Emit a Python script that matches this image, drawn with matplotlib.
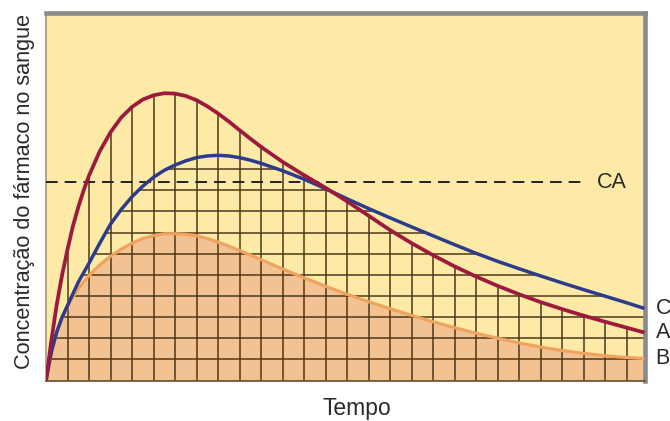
import matplotlib
matplotlib.use("Agg")
import matplotlib.pyplot as plt
from matplotlib.patches import Polygon
import numpy as np

plt.rcParams['font.family'] = ['Liberation Sans', 'DejaVu Sans']

# ---- data (grid units) ----
tempo = [0, 0.25, 0.5, 0.75, 1, 1.25, 1.5, 1.75, 2,
         2.5, 3, 3.5, 4, 4.5, 5, 5.5, 6, 6.5, 7, 7.5, 8, 8.5, 9, 9.5, 10,
         11, 12, 13, 14, 15, 16, 17, 18, 19, 20, 21, 22, 23, 24, 25, 26, 27, 27.83]
curva_A = [0, 1.9, 3.6, 5.0, 6.2, 7.3, 8.2, 9.0, 9.7,
           10.85, 11.75, 12.45, 12.95, 13.3, 13.5, 13.6, 13.58, 13.47, 13.27, 12.98, 12.64,
           12.26, 11.85, 11.45, 11.06,
           10.35, 9.72, 9.12, 8.48, 7.8, 7.12, 6.5, 5.93, 5.4, 4.92, 4.48, 4.08, 3.71, 3.38,
           3.07, 2.78, 2.5, 2.27]
curva_C = [0, 1.35, 2.3, 3.0, 3.55, 4.1, 4.65, 5.1, 5.55,
           6.5, 7.4, 8.1, 8.7, 9.2, 9.62, 9.95, 10.2, 10.4, 10.55, 10.63, 10.66,
           10.63, 10.55, 10.43, 10.28,
           9.93, 9.53, 9.08, 8.6, 8.14, 7.7, 7.27, 6.85, 6.43, 6.02, 5.64, 5.29, 4.95, 4.62,
           4.3, 3.99, 3.68, 3.41]
curva_B = [0, 1.35, 2.3, 2.98, 3.5, 3.95, 4.33, 4.67, 4.97,
           5.47, 5.88, 6.22, 6.5, 6.72, 6.86, 6.94, 6.95, 6.92, 6.85, 6.72, 6.55,
           6.36, 6.15, 5.94, 5.72,
           5.28, 4.86, 4.46, 4.08, 3.73, 3.4, 3.08, 2.78, 2.5, 2.24, 2.0, 1.78, 1.58, 1.42,
           1.28, 1.17, 1.09, 1.04]
nivel_CA = 9.38
fim_CA = 25.0
rotulos = ["C", "A", "B"]

YELLOW = '#fdeaa6'
ORANGE_FILL = '#f3c293'
ORANGE = '#eea45e'
RED = '#9c1a3d'
BLUE = '#2d3b8c'
GRID = '#4a3516'
TXT = '#2a2a2a'

fig = plt.figure(figsize=(6.70, 4.21), dpi=100)
ax = fig.add_axes([46/670, 1-380.5/421, (644.5-46)/670, (380.5-12.5)/421])
ax.set_facecolor(YELLOW)
x = np.array(tempo)
ax.set_xlim(0, x[-1])
ax.set_ylim(0, 17.42)
ax.set_xticks([]); ax.set_yticks([])

# orange fill under B
ax.fill_between(x, 0, curva_B, color=ORANGE_FILL, lw=0, zorder=1)

def under(vals):
    verts = [(x[0], 0)] + list(zip(x, vals)) + [(x[-1], 0)]
    p = Polygon(verts, closed=True, transform=ax.transData, fill=False, lw=0, visible=False)
    ax.add_patch(p)
    return p

clipA = under(curva_A)
clipC = under(curva_C)

for k in range(1, int(x[-1]) + 1):
    ln = ax.axvline(k, color=GRID, lw=1.2, alpha=0.9, zorder=2)
    ln.set_clip_path(clipA)
for k in range(1, 11):
    ln = ax.axhline(k, color=GRID, lw=1.2, alpha=0.9, zorder=2)
    ln.set_clip_path(clipC)

ax.plot([0, fim_CA], [nivel_CA, nivel_CA], color='#222222', lw=1.4,
        dashes=(6, 3.6), zorder=3)
ax.text(25.6, nivel_CA, "CA", fontsize=15.5, color=TXT, va='center', ha='left')

style = dict(solid_capstyle='butt', solid_joinstyle='round')
ax.plot(x, curva_B, color=ORANGE, lw=2.3, zorder=4, **style)
ax.plot(x, curva_C, color=BLUE, lw=2.5, zorder=5, **style)
ax.plot(x, curva_A, color=RED, lw=2.7, zorder=6, **style)

for lab, vals in zip(rotulos, [curva_C, curva_A, curva_B]):
    ax.annotate(lab, xy=(x[-1], vals[-1]), xytext=(8, 0), textcoords='offset points',
                fontsize=15.5, color=TXT, va='center', ha='left', annotation_clip=False)

for s in ['top', 'right']:
    ax.spines[s].set_color('#8b8b8b')
    ax.spines[s].set_linewidth(3.3)
ax.spines['left'].set_color('#9a9a80')
ax.spines['left'].set_linewidth(1.2)
ax.spines['bottom'].set_color('#6b4a28')
ax.spines['bottom'].set_linewidth(1.2)

fig.text(357/670, 1-408/421, "Tempo", fontsize=16.5, color=TXT, ha='center', va='center')
fig.text(25/670, 1-191.5/421, "Concentração do fármaco no sangue", fontsize=15.6,
         color=TXT, rotation=90, ha='center', va='center')

fig.savefig("out.png", dpi=100)
